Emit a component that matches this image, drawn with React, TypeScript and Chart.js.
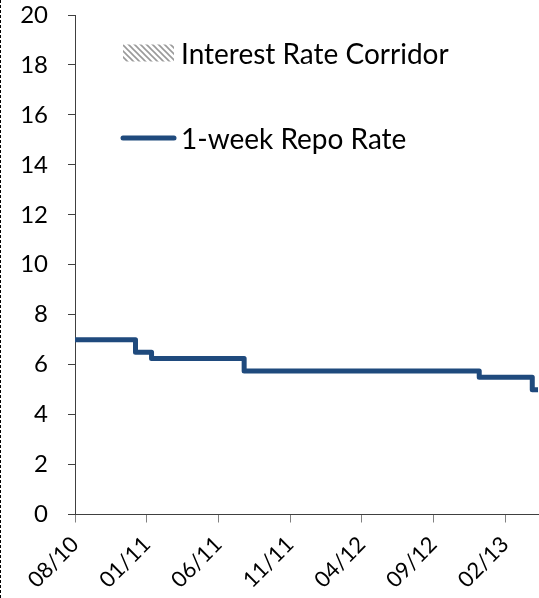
import React, { useEffect, useRef } from 'react';
import { Chart, registerables } from 'chart.js';

Chart.register(...registerables);

// X axis: months since Aug 2010
const xTickMonths = [0, 5, 10, 15, 20, 25, 30];
const xTickLabels = ['08/10', '01/11', '06/11', '11/11', '04/12', '09/12', '02/13'];
const xMax = 32.3;

// 1-week repo rate: month of change and new rate
const repoChangeMonths = [0, 4.22, 5.34, 11.8, 28.2, 31.9, 32.4];
const repoRates = [7.0, 6.5, 6.25, 5.75, 5.5, 5.0, 5.0];

// Interest rate corridor (not drawn in the reference, legend only)
const corridorMonths: number[] = [];
const corridorValues: number[] = [];

const yMin = 0;
const yMax = 20;
const yStep = 2;

const seriesLabels = ['Interest Rate Corridor', '1-week Repo Rate'];

const FONT = 'Lato';

function makeHatch(): CanvasPattern | string {
  const c = document.createElement('canvas');
  c.width = 6;
  c.height = 6;
  const g = c.getContext('2d');
  if (!g) return '#aaa';
  g.fillStyle = '#ffffff';
  g.fillRect(0, 0, 6, 6);
  g.strokeStyle = '#9a9a9a';
  g.lineWidth = 1.6;
  g.beginPath();
  g.moveTo(-1, -1);
  g.lineTo(7, 7);
  g.moveTo(-4, 2);
  g.lineTo(4, 10);
  g.moveTo(2, -4);
  g.lineTo(10, 4);
  g.stroke();
  const p = g.createPattern(c, 'repeat');
  return p || '#aaa';
}

const insideLegend = {
  id: 'insideLegend',
  afterDraw(chart: any, _args: any, opts: any) {
    const ctx = chart.ctx as CanvasRenderingContext2D;
    const { left, top } = chart.chartArea;
    ctx.save();
    ctx.font = `${opts.fontSize}px ${FONT}`;
    ctx.textBaseline = 'middle';
    ctx.textAlign = 'left';
    chart.data.datasets.forEach((ds: any, i: number) => {
      const it = opts.items[i];
      const cy = top + it.dy;
      const bx = left + opts.boxDx;
      if (ds.fill) {
        ctx.fillStyle = ds.backgroundColor;
        ctx.fillRect(bx, cy - opts.boxH / 2, opts.boxW, opts.boxH);
      } else {
        ctx.strokeStyle = ds.borderColor;
        ctx.lineWidth = ds.borderWidth;
        ctx.lineCap = 'round';
        ctx.beginPath();
        ctx.moveTo(bx, cy);
        ctx.lineTo(bx + opts.boxW, cy);
        ctx.stroke();
      }
      ctx.fillStyle = '#000';
      ctx.fillText(ds.label, left + opts.textDx, cy + 2);
    });
    ctx.restore();
  },
};

const dashedEdge = {
  id: 'dashedEdge',
  beforeDraw(chart: any) {
    const ctx = chart.ctx as CanvasRenderingContext2D;
    ctx.save();
    ctx.strokeStyle = '#000';
    ctx.lineWidth = 1;
    ctx.setLineDash([3, 2]);
    ctx.beginPath();
    ctx.moveTo(0.5, 0);
    ctx.lineTo(0.5, chart.height);
    ctx.stroke();
    ctx.restore();
  },
};

export default function App() {
  const ref = useRef<HTMLCanvasElement | null>(null);

  useEffect(() => {
    document.body.style.margin = '0';
    if (!ref.current) return;
    const hatch = makeHatch();
    const chart = new Chart(ref.current, {
      type: 'line',
      data: {
        datasets: [
          {
            label: seriesLabels[0],
            data: corridorMonths.map((x, i) => ({ x, y: corridorValues[i] })),
            backgroundColor: hatch as any,
            borderWidth: 0,
            fill: true,
            pointRadius: 0,
          },
          {
            label: seriesLabels[1],
            data: repoChangeMonths.map((x, i) => ({ x, y: repoRates[i] })),
            borderColor: '#1f4a7d',
            borderWidth: 5,
            stepped: true,
            fill: false,
            pointRadius: 0,
            borderJoinStyle: 'round',
            borderCapStyle: 'butt',
          },
        ],
      },
      options: {
        animation: false,
        responsive: false,
        layout: { padding: { top: 15, right: 1, left: 0, bottom: 0 } },
        plugins: {
          legend: { display: false },
          tooltip: { enabled: false },
          insideLegend: {
            fontSize: 28,
            boxDx: 48,
            boxW: 51,
            boxH: 17,
            textDx: 106,
            items: [{ dy: 38 }, { dy: 123 }],
          },
        } as any,
        scales: {
          x: {
            type: 'linear',
            min: 0,
            max: xMax,
            afterBuildTicks: (scale: any) => {
              scale.ticks = xTickMonths.map((v) => ({ value: v }));
            },
            afterFit: (scale: any) => {
              scale.height = 83.5;
              scale.paddingLeft = 0;
              scale.paddingRight = 0;
            },
            ticks: {
              autoSkip: false,
              minRotation: 45,
              maxRotation: 45,
              padding: 9,
              color: '#000',
              font: { family: FONT, size: 22 },
              callback: (v: any) => {
                const i = xTickMonths.indexOf(Number(v));
                return i >= 0 ? xTickLabels[i] : '';
              },
            },
            grid: {
              drawOnChartArea: false,
              drawTicks: true,
              tickLength: 8,
              color: '#808080',
            },
            border: { display: true, color: '#404040', width: 1 },
          },
          y: {
            min: yMin,
            max: yMax,
            afterFit: (scale: any) => {
              scale.width = 75;
              scale.paddingTop = 0;
              scale.paddingBottom = 0;
            },
            ticks: {
              stepSize: yStep,
              padding: 20,
              color: '#000',
              font: { family: FONT, size: 24 },
            },
            grid: {
              drawOnChartArea: false,
              drawTicks: true,
              tickLength: 7,
              color: '#404040',
            },
            border: { display: true, color: '#404040', width: 1 },
          },
        },
      },
      plugins: [insideLegend, dashedEdge],
    });
    return () => chart.destroy();
  }, []);

  return (
    <div style={{ width: 539, height: 598 }}>
      <canvas ref={ref} width={539} height={598} />
    </div>
  );
}
